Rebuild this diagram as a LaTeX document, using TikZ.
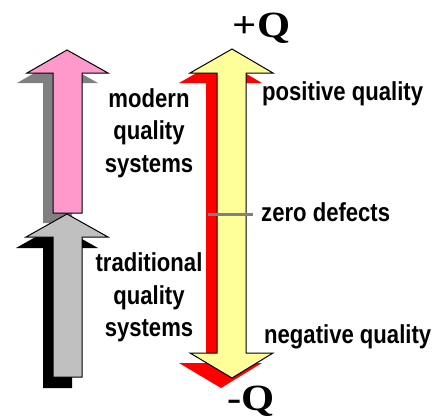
\documentclass[tikz,border=0pt]{standalone}
\usepackage{fontspec}
\newfontfamily\labfont[FakeStretch=0.85]{Liberation Sans}
\newfontfamily\qfont[FakeStretch=1.15]{Liberation Serif}
\definecolor{pinkA}{HTML}{FF99CC}
\definecolor{grayA}{HTML}{C0C0C0}
\definecolor{shadowA}{HTML}{808080}
\definecolor{yellowA}{HTML}{FFFF99}
\definecolor{redA}{HTML}{FF0000}
\begin{document}
\begin{tikzpicture}[x=1pt,y=-1pt,
  outline/.style={draw=black,line width=1pt,line join=miter},
  lab/.style={font=\labfont\bfseries\fontsize{26}{32.5}\selectfont,inner sep=0pt,align=center,anchor=base},
  rlab/.style={font=\labfont\bfseries\fontsize{26}{32.5}\selectfont,inner sep=0pt,anchor=base west},
  qlab/.style={font=\qfont\bfseries\fontsize{37}{40}\selectfont,inner sep=0pt,anchor=base},
  tick/.style={draw=shadowA,line width=3pt}]
\useasboundingbox (0,0) rectangle (436,418);
% pink shadow
\fill[shadowA] (57,60) -- (98,83) -- (72,83) -- (72,223) -- (43,223) -- (43,83) -- (17,83) -- cycle;
% pink arrow
\fill[pinkA,outline] (67,50) -- (108,73) -- (82,73) -- (82,213) -- (53,213) -- (53,73) -- (27,73) -- cycle;
% black shadow
\fill[black] (57,225) -- (98,248) -- (72,248) -- (72,388) -- (43,388) -- (43,248) -- (16,248) -- cycle;
% gray arrow
\fill[grayA,outline] (67,214) -- (108,237) -- (82,237) -- (82,377) -- (53,377) -- (53,237) -- (26,237) -- cycle;
% red shadow of double arrow
\fill[redA] (221,59) -- (262,83) -- (235,83) -- (235,363) -- (262,363) -- (221,388) -- (179,363) -- (206,363) -- (206,83) -- (179,83) -- cycle;
% yellow double arrow
\fill[yellowA,outline] (232,49) -- (273,73) -- (246,73) -- (246,353) -- (273,353) -- (232,378) -- (190,353) -- (217,353) -- (217,73) -- (190,73) -- cycle;
% zero defects tick
\coordinate (zl) at (208,214);
\coordinate (zr) at (253,214);
\draw[tick] (zl) -- (zr);
% labels (base anchor = baseline of last line)
\node[lab] (modern) at (149,172) {modern\\quality\\systems};
\node[lab] (trad) at (149,336.5) {traditional\\quality\\systems};
\node[rlab] (pos) at (262,100) {positive quality};
\node[rlab] (zero) at (261,221.5) {zero defects};
\node[rlab] (neg) at (264,343) {negative quality};
\node[qlab] (plusq) at (261.5,37) {+Q};
\node[qlab] (minusq) at (251,410) {-Q};
\end{tikzpicture}
\end{document}
